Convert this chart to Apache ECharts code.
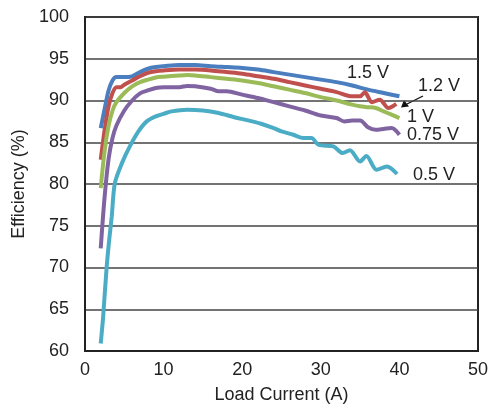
<!DOCTYPE html>
<html><head><meta charset="utf-8">
<script src="https://cdn.jsdelivr.net/npm/echarts@6/dist/echarts.min.js"></script>
<style>html,body{margin:0;padding:0;background:#fff}#c{width:490px;height:404px}</style>
</head><body><div id="c"></div>
<script>
const xTicks = [0, 10, 20, 30, 40, 50];
const yTicks = [60, 65, 70, 75, 80, 85, 90, 95, 100];

const x15 = [2, 2.5, 3, 3.5, 4, 5, 6, 7, 8, 9, 10, 12, 14, 16, 18, 20, 22, 24, 26, 28, 30, 32, 34, 36, 38, 40];
const y15 = [86.7, 89, 91.2, 92.4, 92.8, 92.8, 92.9, 93.4, 93.8, 94.0, 94.1, 94.25, 94.25, 94.1, 94.0, 93.9, 93.7, 93.4, 93.1, 92.8, 92.5, 92.2, 91.8, 91.3, 90.9, 90.5];

const x12 = [2, 2.5, 3, 3.5, 4, 4.5, 5, 6, 7, 8, 9, 10, 12, 14, 16, 18, 20, 22, 24, 26, 28, 30, 32, 34, 35, 35.6, 36.5, 37.5, 38.6, 39.6];
const y12 = [82.9, 86.5, 89.3, 90.9, 91.6, 91.6, 91.9, 92.4, 92.9, 93.3, 93.5, 93.6, 93.7, 93.7, 93.6, 93.4, 93.2, 92.9, 92.6, 92.2, 91.8, 91.4, 91.0, 90.5, 90.5, 91.0, 89.8, 90.1, 89.1, 89.6];

const x10 = [2, 2.5, 3, 3.5, 4, 5, 6, 7, 8, 9, 10, 12, 13, 14, 16, 18, 20, 22, 24, 26, 28, 30, 32, 34, 35, 36, 37, 38, 39, 40];
const y10 = [79.5, 84, 87, 88.8, 89.8, 90.9, 91.7, 92.2, 92.5, 92.75, 92.85, 93.0, 93.05, 93.0, 92.8, 92.6, 92.4, 92.1, 91.7, 91.3, 90.9, 90.4, 90.0, 89.5, 89.3, 89.2, 89.1, 88.7, 88.3, 87.9];

const x075 = [2, 2.5, 3, 3.5, 4, 5, 6, 7, 8, 9, 10, 12, 13, 14, 16, 17, 18, 20, 22, 24, 26, 28, 30, 32, 33, 34, 35, 36, 37, 38, 39, 40];
const y075 = [72.3, 78.5, 83, 85.5, 87, 88.8, 90.0, 90.85, 91.2, 91.5, 91.6, 91.6, 91.75, 91.7, 91.4, 91.1, 91.1, 90.7, 90.3, 89.8, 89.3, 88.8, 88.2, 87.9, 87.5, 87.6, 87.6, 86.8, 86.5, 86.6, 86.7, 85.9];

const x05 = [2, 2.3, 2.76, 3.1, 3.4, 3.8, 4.7, 5.7, 6.8, 7.85, 9, 10, 11, 13, 15, 17, 19, 20.6, 22.3, 24, 25, 26.5, 27.8, 28.8, 29.7, 31.6, 32.8, 33.7, 35, 35.8, 37.1, 38.4, 39.7];
const y05 = [60.9, 64, 70.1, 73.5, 76.1, 80.1, 82.5, 84.5, 86.3, 87.5, 88.1, 88.4, 88.7, 88.9, 88.8, 88.5, 88.0, 87.65, 87.25, 86.7, 86.3, 85.9, 85.5, 85.5, 84.7, 84.5, 83.7, 84.05, 82.7, 83.35, 81.7, 82.1, 81.2];

const seriesNames = ['1.5 V', '1.2 V', '1 V', '0.75 V', '0.5 V'];
const colors = ['#4a7ebf', '#c0504d', '#9bbb59', '#8064a2', '#4bacc6'];
const xs = [x15, x12, x10, x075, x05];
const ys = [y15, y12, y10, y075, y05];

const chart = echarts.init(document.getElementById('c'));
const FONT = 'Liberation Sans, Arial, sans-serif';
const labelPos = [[347, 73], [418, 86], [407, 117], [407, 135], [413, 175]];
chart.setOption({
  animation: false,
  grid: { left: 85, right: 12, top: 17, bottom: 53, outerBoundsMode: 'none', containLabel: false, show: true, borderColor: '#222', borderWidth: 2, backgroundColor: 'transparent' },
  xAxis: {
    type: 'value', min: xTicks[0], max: xTicks[xTicks.length - 1], interval: 10,
    name: 'Load Current (A)', nameLocation: 'middle', nameGap: 35,
    nameTextStyle: { fontFamily: FONT, fontSize: 18, color: '#222' },
    axisLine: { show: true, lineStyle: { color: '#222', width: 2 } },
    axisTick: { show: false },
    axisLabel: { fontFamily: FONT, fontSize: 18, color: '#222', margin: 10 },
    splitLine: { show: false }
  },
  yAxis: {
    type: 'value', min: yTicks[0], max: yTicks[yTicks.length - 1], interval: 5,
    name: 'Efficiency (%)', nameLocation: 'middle', nameGap: 57,
    nameTextStyle: { fontFamily: FONT, fontSize: 18, color: '#222' },
    axisLine: { show: true, lineStyle: { color: '#222', width: 2 } },
    axisTick: { show: false },
    axisLabel: { fontFamily: FONT, fontSize: 18, color: '#222', margin: 16 },
    splitLine: { show: true, lineStyle: { color: '#444', width: 1.5 } }
  },
  series: seriesNames.map((n, i) => ({
    name: n, type: 'line', showSymbol: false, smooth: 0.3,
    lineStyle: { color: colors[i], width: 4 },
    data: xs[i].map((x, j) => [x, ys[i][j]])
  })),
  graphic: seriesNames.map((n, i) => ({
    type: 'text', x: labelPos[i][0], y: labelPos[i][1],
    style: { text: n, font: '18px ' + FONT, fill: '#222', verticalAlign: 'middle', align: 'left' }
  })).concat([
    { type: 'line', shape: { x1: 423, y1: 96, x2: 407, y2: 104 }, style: { stroke: '#111', lineWidth: 1.3 } },
    { type: 'polygon', shape: { points: [[401, 107.5], [404, 100], [409, 106.5]] }, style: { fill: '#111' } }
  ])
});
</script>
</body></html>
